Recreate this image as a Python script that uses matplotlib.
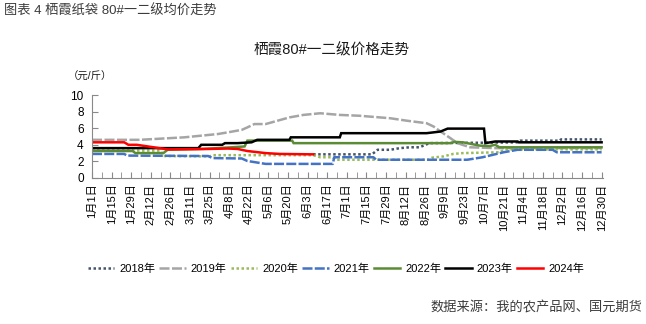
import matplotlib
matplotlib.use("Agg")
import matplotlib.pyplot as plt
import pandas as pd

plt.rcParams['font.family'] = ['Liberation Sans', 'Noto Sans CJK SC']
plt.rcParams['axes.unicode_minus'] = False

# %%
# 数据（以 2024 闰年日期作为横轴基准，MM-DD）
d2018 = ["06-07", "07-19", "07-23", "08-01", "08-08", "08-15", "08-22", "08-29", "10-06",
         "10-31", "11-02", "11-30", "12-01", "12-30"]
v2018 = [2.85, 2.85, 3.4, 3.4, 3.6, 3.7, 3.7, 4.2, 4.25, 4.3, 4.5, 4.5, 4.65, 4.65]

d2019 = ["01-01", "02-04", "03-07", "03-31", "04-07", "04-17", "04-21", "04-26", "05-04",
         "05-21", "05-31", "06-12", "06-26", "07-10", "08-01", "08-13", "08-27", "09-01",
         "09-06", "09-13", "09-18", "09-27", "10-15", "12-30"]
v2019 = [4.6, 4.6, 4.9, 5.3, 5.5, 5.8, 6.1, 6.5, 6.5, 7.3, 7.6, 7.8, 7.6, 7.5, 7.2, 6.9,
         6.6, 6.2, 5.6, 4.8, 4.2, 3.7, 3.6, 3.6]

d2020 = ["01-01", "02-19", "02-21", "03-25", "03-27", "06-07", "06-12", "06-21", "06-23",
         "08-29", "08-31", "09-08", "09-15", "09-22", "10-18", "10-22", "12-30"]
v2020 = [3.3, 3.3, 2.65, 2.6, 2.75, 2.75, 2.5, 2.5, 2.2, 2.2, 2.45, 2.6, 2.9, 3.0, 3.1,
         3.45, 3.45]

d2021 = ["01-01", "01-24", "01-26", "03-24", "03-27", "04-17", "04-21", "05-04", "06-21",
         "06-22", "07-20", "07-22", "09-25", "10-06", "10-21", "10-31", "11-25", "11-28",
         "12-30"]
v2021 = [2.9, 2.9, 2.7, 2.65, 2.4, 2.35, 2.05, 1.7, 1.7, 2.5, 2.5, 2.2, 2.2, 2.5, 3.1,
         3.4, 3.4, 3.1, 3.1]

d2022 = ["01-01", "01-30", "02-01", "02-21", "02-24", "03-20", "04-10", "04-19", "04-21",
         "05-23", "05-24", "09-13", "09-16", "09-22", "10-04", "10-11", "10-15", "10-18",
         "12-30"]
v2022 = [3.25, 3.25, 3.0, 3.0, 3.4, 3.5, 3.7, 3.8, 4.5, 4.5, 4.2, 4.2, 4.35, 4.3, 3.9,
         3.85, 4.0, 3.7, 3.7]

d2023 = ["01-01", "03-17", "03-19", "04-03", "04-05", "04-14", "04-24", "04-28", "05-21",
         "05-22", "06-26", "06-27", "08-27", "09-06", "09-11", "10-07", "10-08", "10-15",
         "10-31", "11-01", "12-30"]
v2023 = [3.6, 3.6, 4.0, 4.0, 4.2, 4.2, 4.3, 4.6, 4.6, 4.9, 4.9, 5.4, 5.4, 5.6, 5.95,
         5.95, 4.2, 4.4, 4.4, 4.3, 4.3]

d2024 = ["01-01", "01-24", "01-27", "02-02", "02-24", "03-24", "04-07", "04-14", "04-21",
         "05-04", "05-14", "06-07"]
v2024 = [4.3, 4.3, 4.0, 4.0, 3.45, 3.5, 3.55, 3.5, 3.25, 3.0, 2.9, 2.85]

series = [
    ("2018年", d2018, v2018, "#44546A", (0, (1, 1))),
    ("2019年", d2019, v2019, "#A5A5A5", (0, (4, 1))),
    ("2020年", d2020, v2020, "#9BBB59", (0, (1, 1))),
    ("2021年", d2021, v2021, "#4472C4", (0, (4, 0.9))),
    ("2022年", d2022, v2022, "#5B8C35", "-"),
    ("2023年", d2023, v2023, "#000000", "-"),
    ("2024年", d2024, v2024, "#FF0000", "-"),
]


def to_dates(mmdd):
    return pd.to_datetime(["2024-" + s for s in mmdd])


# %%
fig = plt.figure(figsize=(6.46, 3.24), dpi=100)
W, H = 646, 324
ax = fig.add_axes([92 / W, 1 - 178 / H, (603 - 92) / W, (178 - 95) / H])

for name, d, v, c, ls in series:
    ax.plot(to_dates(d), v, color=c, lw=1.8, linestyle=ls, label=name,
            dash_capstyle='butt', solid_joinstyle='miter')

ax.set_ylim(0, 10)
ax.set_yticks(range(0, 11, 2))
ax.set_xlim(pd.Timestamp("2024-01-01"), pd.Timestamp("2024-12-31"))

major = pd.date_range("2024-01-01", "2024-12-30", freq="14D")
minor = pd.date_range("2024-01-08", "2024-12-30", freq="14D")
ax.set_xticks(major)
ax.set_xticks(minor, minor=True)
ax.set_xticklabels([f"{t.month}月{t.day}日" for t in major], rotation=90, fontsize=8)

for s in ["top", "right"]:
    ax.spines[s].set_visible(False)
for s in ["left", "bottom"]:
    ax.spines[s].set_color("#898989")
ax.tick_params(axis="both", which="both", direction="in", color="#898989", length=4)
ax.tick_params(axis="y", labelsize=8.5, pad=6)
ax.tick_params(axis="x", pad=4)

# %%
fig.text(4 / W, 1 - 11 / H, "图表 4 栖霞纸袋 80#一二级均价走势", fontsize=9.5,
         color="#3C3C3C", va="center", ha="left")
fig.text(332 / W, 1 - 50 / H, "栖霞80#一二级价格走势", fontsize=10.5,
         color="#1A1A1A", va="center", ha="center")
fig.text(68 / W, 1 - 77 / H, "（元/斤）", fontsize=7.5, color="#1A1A1A",
         va="center", ha="left")
fig.text(642 / W, 1 - 308 / H, "数据来源：我的农产品网、国元期货", fontsize=9.5,
         color="#3C3C3C", va="center", ha="right")

fig.legend(loc="center", bbox_to_anchor=(336 / W, 1 - 269 / H), ncol=7, frameon=False,
           fontsize=8, handlelength=2.4, handletextpad=0.45, columnspacing=0.35)

fig.savefig("out.png", dpi=100)
